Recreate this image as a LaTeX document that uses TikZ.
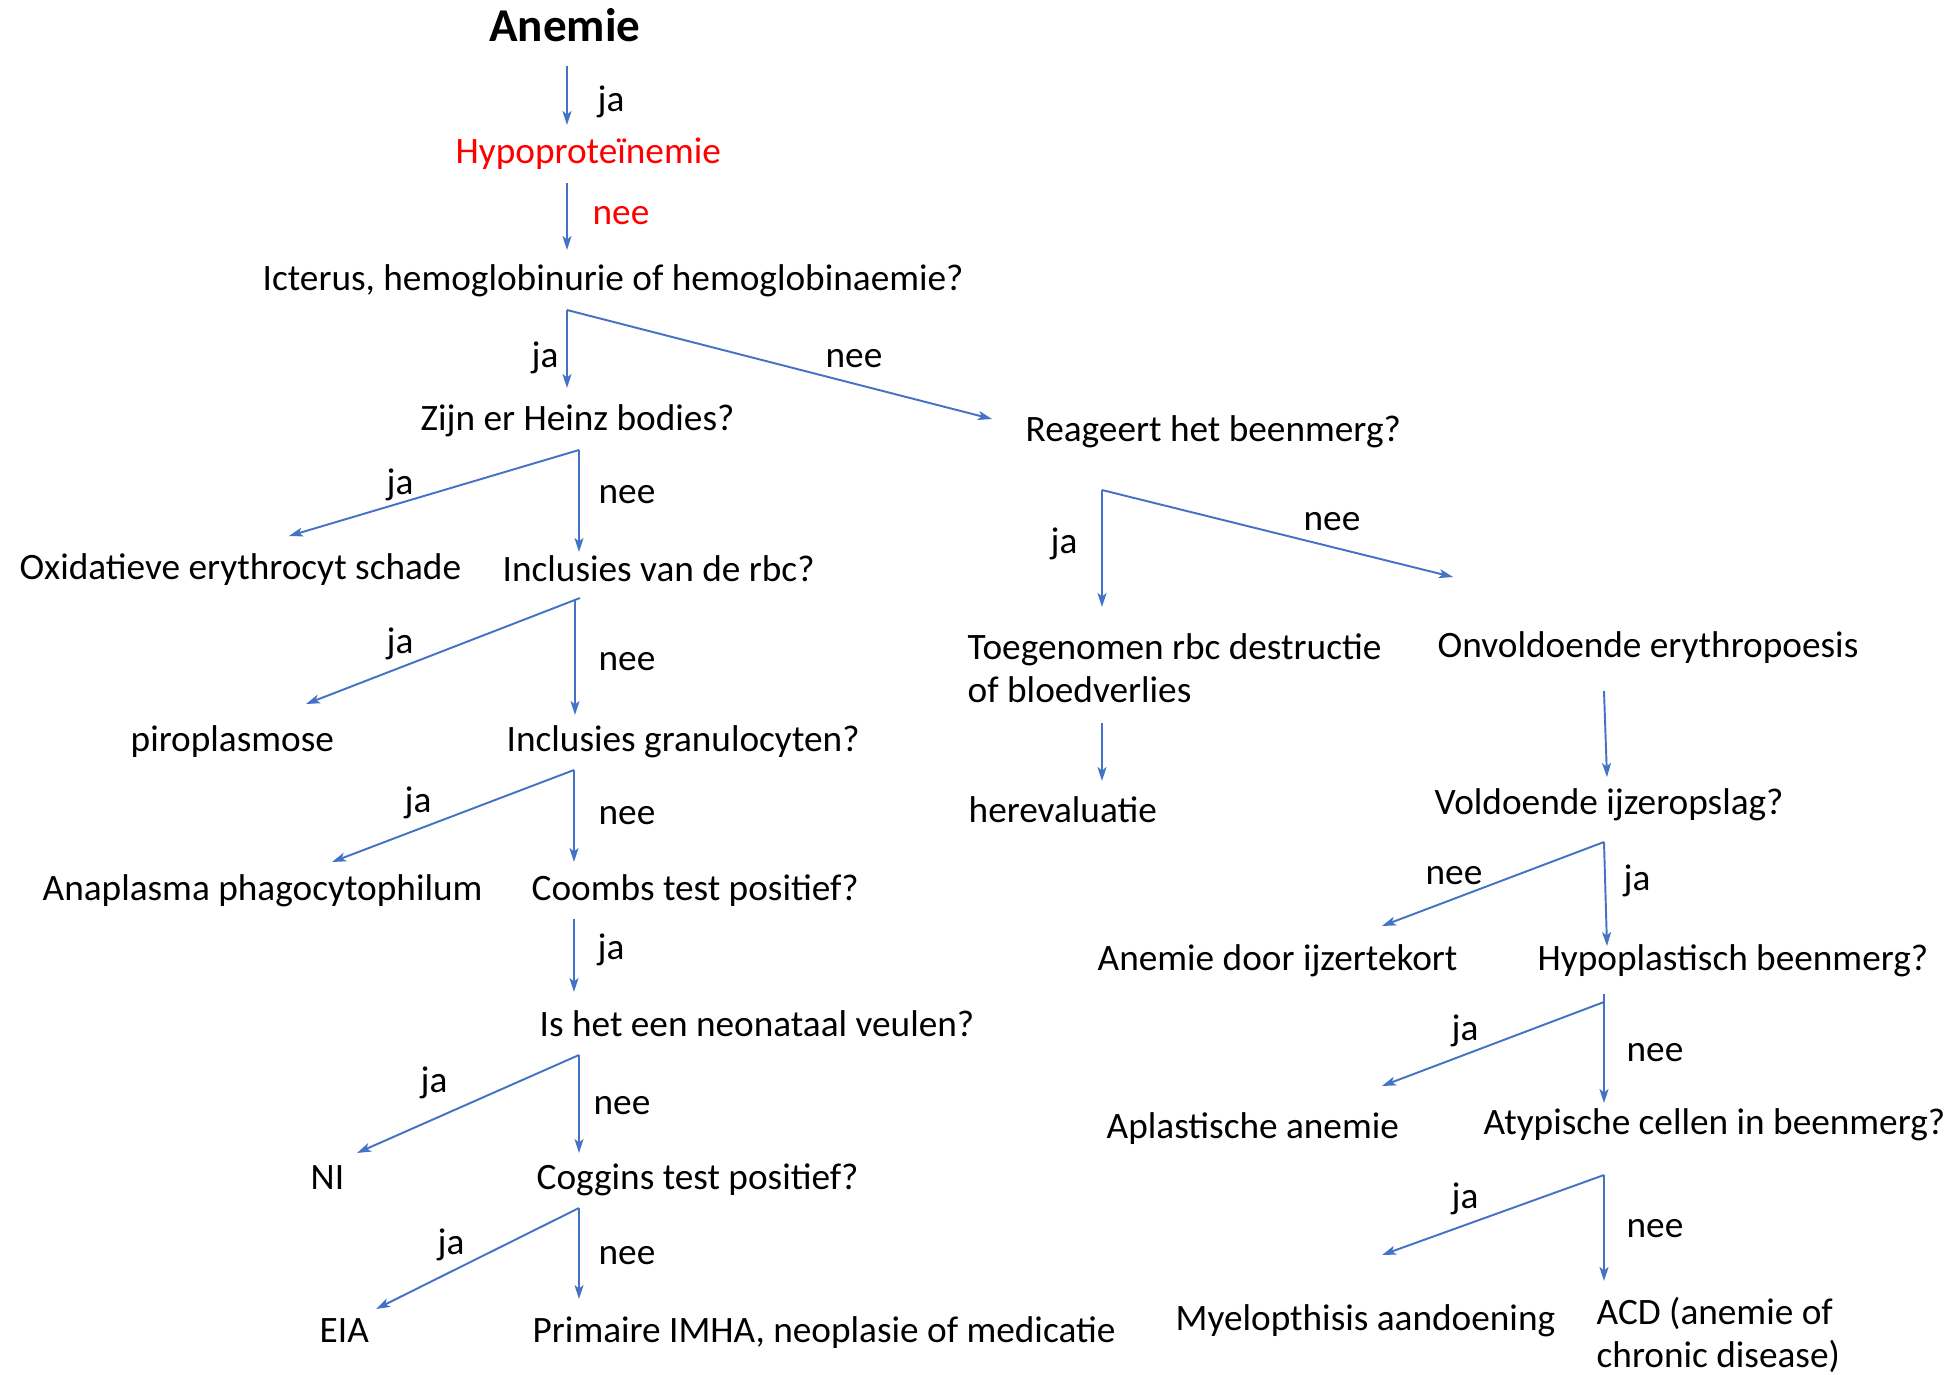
\documentclass[tikz,border=0pt]{standalone}
\usepackage{fontspec}
\setmainfont{Carlito}
\usetikzlibrary{arrows.meta}
\definecolor{FlowBlue}{HTML}{4472C4}
\definecolor{FlowRed}{HTML}{FF0000}
\tikzset{
  txt/.style={font=\fontsize{10.6}{12.2}\selectfont, inner sep=0pt, text height=9.8pt, text depth=2.5pt},
  txtml/.style={font=\fontsize{10.6}{12.2}\selectfont, inner sep=0pt, align=left},
  arr/.style={FlowBlue, line width=0.55pt, -{Stealth[length=1.4mm,width=0.9mm,inset=0.35mm]}}
}

\begin{document}
\begin{tikzpicture}[x=0.01cm,y=-0.01cm]
    \useasboundingbox (0,0) rectangle (1944,1375);

    % questions and outcomes, left column
    \node[txt, font=\bfseries\fontsize{13.4}{16}\selectfont, text height=9pt, text depth=0pt] (anemie) at (565,26) {Anemie};
    \node[txt, anchor=west, text=FlowRed] (hypo) at (455,151) {Hypoproteïnemie};
    \node[txt, anchor=west] (icterus) at (262,278) {Icterus, hemoglobinurie of hemoglobinaemie?};
    \node[txt, anchor=west] (heinz) at (420,418) {Zijn er Heinz bodies?};
    \node[txt, anchor=west] (oxid) at (19,567) {Oxidatieve erythrocyt schade};
    \node[txt, anchor=west] (inclrbc) at (502,569) {Inclusies van de rbc?};
    \node[txt, anchor=west] (piro) at (130,739) {piroplasmose};
    \node[txt, anchor=west] (inclgran) at (506,739) {Inclusies granulocyten?};
    \node[txt, anchor=west] (anapl) at (42,888) {Anaplasma phagocytophilum};
    \node[txt, anchor=west] (coombs) at (531,888) {Coombs test positief?};
    \node[txt, anchor=west] (veulen) at (539,1024) {Is het een neonataal veulen?};
    \node[txt, anchor=west] (ni) at (310,1177) {NI};
    \node[txt, anchor=west] (coggins) at (536,1177) {Coggins test positief?};
    \node[txt, anchor=west] (eia) at (319,1330) {EIA};
    \node[txt, anchor=west] (imha) at (532,1330) {Primaire IMHA, neoplasie of medicatie};

    % right column
    \node[txt, anchor=west] (beenmerg) at (1025,429) {Reageert het beenmerg?};
    \node[txtml, anchor=west] (destructie) at (967,668) {Toegenomen rbc destructie\\of bloedverlies};
    \node[txt, anchor=west] (onvold) at (1437,645) {Onvoldoende erythropoesis};
    \node[txt, anchor=west] (herev) at (968,810) {herevaluatie};
    \node[txt, anchor=west] (ijzer) at (1434,802) {Voldoende ijzeropslag?};
    \node[txt, anchor=west] (tekort) at (1097,958) {Anemie door ijzertekort};
    \node[txt, anchor=west] (hypopl) at (1537,958) {Hypoplastisch beenmerg?};
    \node[txt, anchor=west] (aplast) at (1106,1126) {Aplastische anemie};
    \node[txt, anchor=west] (atyp) at (1483,1122) {Atypische cellen in beenmerg?};
    \node[txt, anchor=west] (myelo) at (1175,1318) {Myelopthisis aandoening};
    \node[txtml, anchor=west] (acd) at (1596,1335) {ACD (anemie of\\chronic disease)};

    % ja / nee labels
    \node[txt] (jaAnemie) at (611,99) {ja};
    \node[txt, text=FlowRed] (neeHypo) at (621,212) {nee};
    \node[txt] (jaIct) at (545,355) {ja};
    \node[txt] (neeIct) at (854,355) {nee};
    \node[txt] (jaHeinz) at (400,482) {ja};
    \node[txt] (neeHeinz) at (627,491) {nee};
    \node[txt] (jaRbc) at (400,641) {ja};
    \node[txt] (neeRbc) at (627,658) {nee};
    \node[txt] (jaGran) at (418,800) {ja};
    \node[txt] (neeGran) at (627,812) {nee};
    \node[txt] (jaCoombs) at (611,947) {ja};
    \node[txt] (jaVeulen) at (434,1080) {ja};
    \node[txt] (neeVeulen) at (622,1102) {nee};
    \node[txt] (jaCoggins) at (451,1242) {ja};
    \node[txt] (neeCoggins) at (627,1252) {nee};
    \node[txt] (jaMerg) at (1064,541) {ja};
    \node[txt] (neeMerg) at (1332,518) {nee};
    \node[txt] (neeIjzer) at (1454,872) {nee};
    \node[txt] (jaIjzer) at (1637,878) {ja};
    \node[txt] (jaHypopl) at (1465,1028) {ja};
    \node[txt] (neeHypopl) at (1655,1049) {nee};
    \node[txt] (jaAtyp) at (1465,1196) {ja};
    \node[txt] (neeAtyp) at (1655,1225) {nee};

    % arrow starts and ends
    \coordinate (sAnemie) at (567,66);    \coordinate (eAnemie) at (567,125);
    \coordinate (sHypo) at (567,183);     \coordinate (eHypo) at (567,250);
    \coordinate (fIct) at (567,310);      \coordinate (fIctJa) at (567,388);   \coordinate (fIctNee) at (992,419);
    \coordinate (fHeinz) at (579,450);    \coordinate (fHeinzJa) at (289,536); \coordinate (fHeinzNee) at (579,552);
    \coordinate (fRbc) at (580,598);      \coordinate (fRbcJa) at (306,704);
    \coordinate (sRbc) at (575,600);      \coordinate (fRbcNee) at (575,715);
    \coordinate (fGran) at (574,770);     \coordinate (fGranJa) at (332,862);  \coordinate (fGranNee) at (574,862);
    \coordinate (sCoombs) at (574,919);   \coordinate (eCoombs) at (574,992);
    \coordinate (fVeulen) at (579,1055);  \coordinate (fVeulenJa) at (357,1153); \coordinate (fVeulenNee) at (579,1153);
    \coordinate (fCoggins) at (579,1208); \coordinate (fCogginsJa) at (376,1309); \coordinate (fCogginsNee) at (579,1299);
    \coordinate (fMerg) at (1102,490);    \coordinate (fMergJa) at (1102,607); \coordinate (fMergNee) at (1453,577);
    \coordinate (sDestr) at (1102,723);   \coordinate (eDestr) at (1102,781);
    \coordinate (sOnvold) at (1604,691);  \coordinate (eOnvold) at (1607,777);
    \coordinate (fIjzer) at (1604,842);   \coordinate (fIjzerNee) at (1382,926); \coordinate (fIjzerJa) at (1607,946);
    \coordinate (fHypopl) at (1604,994);  \coordinate (fHypoplJa) at (1382,1086); \coordinate (fHypoplNee) at (1604,1103);
    \coordinate (fAtyp) at (1604,1175);   \coordinate (fAtypJa) at (1382,1255); \coordinate (fAtypNee) at (1604,1281);

    % connectors
    \draw[arr] (sAnemie) -- (eAnemie);
    \draw[arr] (sHypo) -- (eHypo);
    \draw[arr] (fIct) -- (fIctJa);
    \draw[arr] (fIct) -- (fIctNee);
    \draw[arr] (fHeinz) -- (fHeinzJa);
    \draw[arr] (fHeinz) -- (fHeinzNee);
    \draw[arr] (fRbc) -- (fRbcJa);
    \draw[arr] (sRbc) -- (fRbcNee);
    \draw[arr] (fGran) -- (fGranJa);
    \draw[arr] (fGran) -- (fGranNee);
    \draw[arr] (sCoombs) -- (eCoombs);
    \draw[arr] (fVeulen) -- (fVeulenJa);
    \draw[arr] (fVeulen) -- (fVeulenNee);
    \draw[arr] (fCoggins) -- (fCogginsJa);
    \draw[arr] (fCoggins) -- (fCogginsNee);
    \draw[arr] (fMerg) -- (fMergJa);
    \draw[arr] (fMerg) -- (fMergNee);
    \draw[arr] (sDestr) -- (eDestr);
    \draw[arr] (sOnvold) -- (eOnvold);
    \draw[arr] (fIjzer) -- (fIjzerNee);
    \draw[arr] (fIjzer) -- (fIjzerJa);
    \draw[arr] ([yshift=-0.08cm]fHypopl) -- (fHypoplJa);
    \draw[arr] (fHypopl) -- (fHypoplNee);
    \draw[arr] (fAtyp) -- (fAtypJa);
    \draw[arr] (fAtyp) -- (fAtypNee);
\end{tikzpicture}
\end{document}
